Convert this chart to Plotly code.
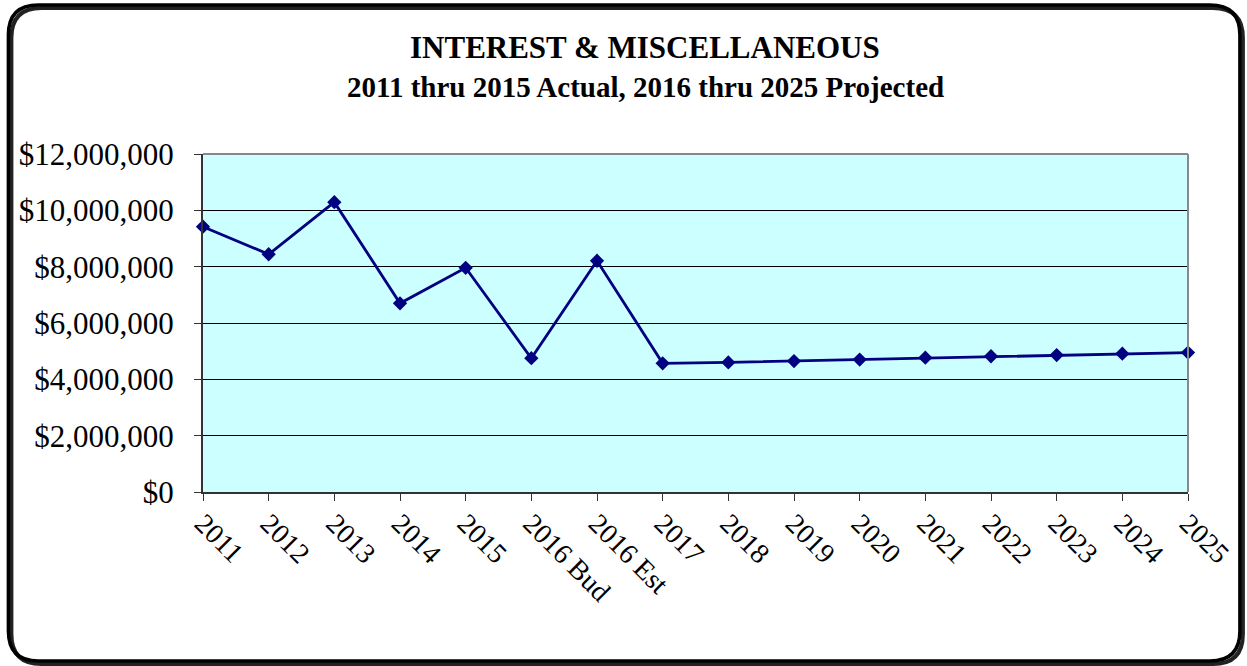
import plotly.graph_objects as go

categories = ["2011", "2012", "2013", "2014", "2015", "2016 Bud", "2016 Est",
              "2017", "2018", "2019", "2020", "2021", "2022", "2023", "2024", "2025"]
values = [9420000, 8440000, 10290000, 6700000, 7960000, 4750000, 8210000,
          4570000, 4600000, 4650000, 4700000, 4770000, 4820000, 4860000, 4910000, 4950000]
title_line1 = "INTEREST & MISCELLANEOUS"
title_line2 = "2011 thru 2015 Actual, 2016 thru 2025 Projected"

W, H = 1247, 666
L, R, T, B = 203, 1190, 154, 492

def px(x):
    return (x - L) / (R - L)

def py(y):
    return (B - y) / (B - T)

def rounded_path(x0, y0, x1, y1, r):
    pts = [
        f"M {px(x0 + r)},{py(y0)}",
        f"L {px(x1 - r)},{py(y0)}",
        f"Q {px(x1)},{py(y0)} {px(x1)},{py(y0 + r)}",
        f"L {px(x1)},{py(y1 - r)}",
        f"Q {px(x1)},{py(y1)} {px(x1 - r)},{py(y1)}",
        f"L {px(x0 + r)},{py(y1)}",
        f"Q {px(x0)},{py(y1)} {px(x0)},{py(y1 - r)}",
        f"L {px(x0)},{py(y0 + r)}",
        f"Q {px(x0)},{py(y0)} {px(x0 + r)},{py(y0)}",
        "Z",
    ]
    return " ".join(pts)

serif = "Liberation Serif, Times New Roman, serif"

fig = go.Figure()
fig.add_trace(go.Scatter(
    x=categories, y=values, mode="lines+markers",
    line=dict(color="#000080", width=2.8),
    marker=dict(symbol="diamond", size=11, color="#000080"),
    showlegend=False, cliponaxis=False,
))

fig.update_layout(
    width=W, height=H,
    margin=dict(l=L, r=W - R, t=T, b=H - B),
    paper_bgcolor="white",
    plot_bgcolor="#CCFFFF",
    font=dict(family=serif, color="black"),
    xaxis=dict(
        type="category", range=[0, len(categories) - 1],
        showgrid=False, showline=True, linecolor="#333333", linewidth=2,
        ticks="outside", ticklen=7, tickcolor="#333333", tickwidth=1,
        tickangle=45, tickfont=dict(size=28, family=serif),
        ticklabelstandoff=-5,
        zeroline=False,
    ),
    yaxis=dict(
        range=[0, 12000000], dtick=2000000, tickprefix="$", tickformat=",d",
        showgrid=True, gridcolor="black", gridwidth=1,
        showline=True, linecolor="#333333", linewidth=2,
        ticks="outside", ticklen=7, tickcolor="#333333",
        tickfont=dict(size=31, family=serif), zeroline=False,
        ticklabelstandoff=14,
    ),
    annotations=[
        dict(text=f"<b>{title_line1}</b>", x=px(646), y=py(48), xref="paper", yref="paper",
             showarrow=False, font=dict(size=31, family=serif), xanchor="center", yanchor="middle"),
        dict(text=f"<b>{title_line2}</b>", x=px(646), y=py(87), xref="paper", yref="paper",
             showarrow=False, font=dict(size=29, family=serif), xanchor="center", yanchor="middle"),
    ],
    shapes=[
        dict(type="line", xref="paper", yref="paper", x0=0, x1=1, y0=1, y1=1,
             line=dict(color="#888888", width=2)),
        dict(type="line", xref="paper", yref="paper", x0=1, x1=1, y0=0, y1=1,
             line=dict(color="#888888", width=2)),
        dict(type="path", xref="paper", yref="paper",
             path=rounded_path(11, 8, 1245, 664, 30),
             line=dict(color="#222222", width=4)),
        dict(type="path", xref="paper", yref="paper",
             path=rounded_path(8, 5, 1242, 661, 30),
             line=dict(color="black", width=3.5)),
    ],
)

fig.write_html("out.html", config={"displayModeBar": False},
               post_script="document.body.style.margin='0';document.body.style.overflow='hidden';")
